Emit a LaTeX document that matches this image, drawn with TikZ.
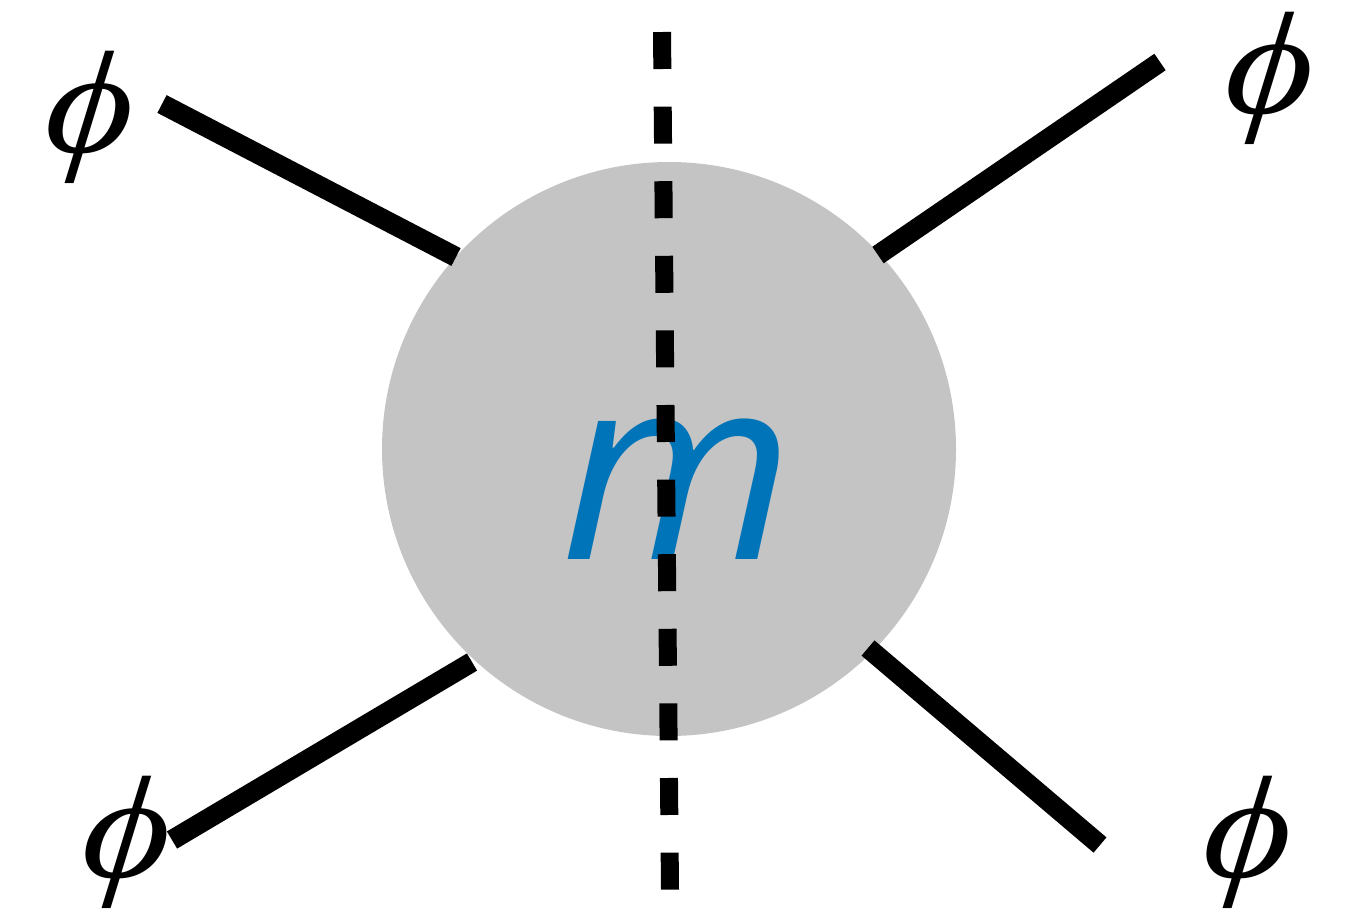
\documentclass[tikz,border=0pt]{standalone}
\usepackage{fontspec}
\newfontfamily\mfont{Open Sans}
\newfontfamily\phifont{Liberation Serif}
\definecolor{blob}{RGB}{196,196,196}
\definecolor{mblue}{RGB}{0,116,184}
\newcommand{\bigphi}{{\phifont\itshape\fontsize{73}{73}\selectfont ϕ}}
\tikzset{
  leg/.style={line width=10pt, line cap=butt},
  cut/.style={line width=9pt, dash pattern=on 18.5pt off 18.8pt},
  philab/.style={inner sep=0pt, xscale=1.15, xslant=0.09},
}
\begin{document}
\begin{tikzpicture}[x=0.5pt,y=-0.5pt]
\useasboundingbox (0,0) rectangle (1358,912);
\fill[blob] (669,449) circle[radius=287];
\node[inner sep=0pt, text=mblue, font=\mfont\itshape\fontsize{129}{129}\selectfont, xscale=1.04] (m) at (677,489) {m};
% legs
\coordinate (a1) at (162,104); \coordinate (a2) at (456,257);
\coordinate (b1) at (1160,62); \coordinate (b2) at (878,255);
\coordinate (c1) at (172,840); \coordinate (c2) at (472,662);
\coordinate (d1) at (1100,845); \coordinate (d2) at (868,648);
\draw[leg] (a1) -- (a2);
\draw[leg] (b1) -- (b2);
\draw[leg] (c1) -- (c2);
\draw[leg] (d1) -- (d2);
% cut
\coordinate (t) at (662,32); \coordinate (u) at (670,890);
\draw[cut] (t) -- (u);
% labels
\node[philab] (p1) at (90,117) {\bigphi};
\node[philab] (p2) at (1270,78) {\bigphi};
\node[philab] (p3) at (127,842) {\bigphi};
\node[philab] (p4) at (1248,842) {\bigphi};
\end{tikzpicture}
\end{document}
